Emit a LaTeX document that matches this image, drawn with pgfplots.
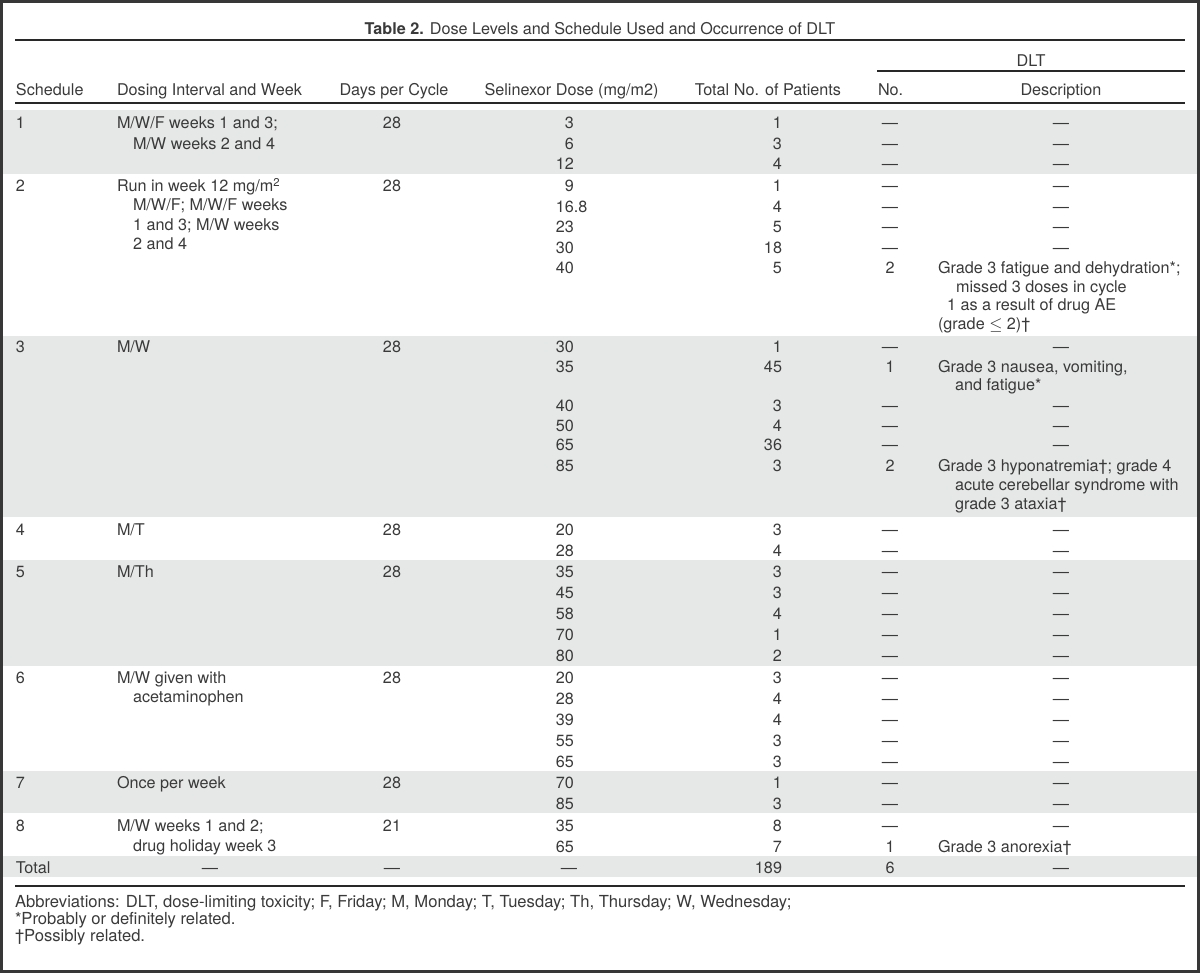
\documentclass[border=0pt]{standalone}
\usepackage{fontspec}
\setmainfont{TeX Gyre Heros}
\usepackage{pgfplots}
\pgfplotsset{compat=1.18}
\usepackage{pgfplotstable}
\definecolor{shade}{RGB}{230,231,231}
\definecolor{txt}{RGB}{58,58,58}
\definecolor{rulec}{RGB}{40,40,40}
\definecolor{framec}{RGB}{55,55,55}
\newcommand\tabfont{\fontsize{8.1}{9.7}\selectfont}
\newcommand\notefont{\fontsize{8.3}{9.9}\selectfont}
\tikzset{cell/.style={inner sep=0pt,outer sep=0pt,yshift=-3pt,font=\tabfont,text=txt},
         note/.style={inner sep=0pt,outer sep=0pt,yshift=-3pt,font=\notefont,text=txt,anchor=base west}}
\newcommand{\cellL}[3]{\node[cell,anchor=base west] at (axis cs:#1,#2) {#3};}
\newcommand{\cellC}[3]{\node[cell,anchor=base] at (axis cs:#1,#2) {#3};}

% Selinexor dose (right aligned, decimal aligned)
\pgfplotstableread{
x y t
574 123 3
574 143.5 6
574 164 12
574 186 9
587.5 206.5 16.8
574 227 23
574 247.5 30
574 268 40
574 346 30
574 366 35
574 405 40
574 425 50
574 445 65
574 465 85
574 529 20
574 550 28
574 571 35
574 592 45
574 613 58
574 634 70
574 655 80
574 677 20
574 698 28
574 719 39
574 740 55
574 761 65
574 782 70
574 803 85
574 825 35
574 846 65
577 867 —
}\dosetab

% Total no. of patients (right aligned)
\pgfplotstableread{
x y t
782 123 1
782 143.5 3
782 164 4
782 186 1
782 206.5 4
782 227 5
782 247.5 18
782 268 5
782 346 1
782 366 45
782 405 3
782 425 4
782 445 36
782 465 3
782 529 3
782 550 4
782 571 3
782 592 3
782 613 4
782 634 1
782 655 2
782 677 3
782 698 4
782 719 4
782 740 3
782 761 3
782 782 1
782 803 3
782 825 8
782 846 7
782 867 189
}\pattab

% DLT no. (centred)
\pgfplotstableread{
x y t
890 123 —
890 143.5 —
890 164 —
890 186 —
890 206.5 —
890 227 —
890 247.5 —
890 268 2
890 346 —
890 366 1
890 405 —
890 425 —
890 445 —
890 465 2
890 529 —
890 550 —
890 571 —
890 592 —
890 613 —
890 634 —
890 655 —
890 677 —
890 698 —
890 719 —
890 740 —
890 761 —
890 782 —
890 803 —
890 825 —
890 846 1
890 867 6
}\notab

% Days per cycle (centred)
\pgfplotstableread{
x y t
392 123 28
392 186 28
392 346 28
392 529 28
392 571 28
392 677 28
392 782 28
392 825 21
392 867 —
}\daystab

% Description dashes (centred)
\pgfplotstableread{
x y t
1061 123 —
1061 143.5 —
1061 164 —
1061 186 —
1061 206.5 —
1061 227 —
1061 247.5 —
1061 346 —
1061 405 —
1061 425 —
1061 445 —
1061 529 —
1061 550 —
1061 571 —
1061 592 —
1061 613 —
1061 634 —
1061 655 —
1061 677 —
1061 698 —
1061 719 —
1061 740 —
1061 761 —
1061 782 —
1061 803 —
1061 825 —
1061 867 —
}\desctab

\begin{document}
\begin{tikzpicture}
\begin{axis}[
  scale only axis, width=600pt, height=486.5pt,
  xmin=0, xmax=1200, ymin=0, ymax=973, y dir=reverse,
  hide axis, clip=false,
]
% shaded groups
\addplot[fill=shade,draw=none] coordinates {(3,110)(1197,110)(1197,174)(3,174)} -- cycle;
\addplot[fill=shade,draw=none] coordinates {(3,336)(1197,336)(1197,517)(3,517)} -- cycle;
\addplot[fill=shade,draw=none] coordinates {(3,560)(1197,560)(1197,666)(3,666)} -- cycle;
\addplot[fill=shade,draw=none] coordinates {(3,771)(1197,771)(1197,813)(3,813)} -- cycle;
\addplot[fill=shade,draw=none] coordinates {(3,856)(1197,856)(1197,877)(3,877)} -- cycle;
% rules
\addplot[draw=rulec,line width=0.85pt] coordinates {(15,40)(1185,40)};
\addplot[draw=rulec,line width=0.85pt] coordinates {(877,71)(1185,71)};
\addplot[draw=rulec,line width=0.85pt] coordinates {(15,103)(1185,103)};
\addplot[draw=rulec,line width=0.85pt] coordinates {(15,886)(1185,886)};
% frame
\addplot[draw=framec,line width=1.5pt] coordinates {(1.5,1.5)(1198.5,1.5)(1198.5,971.5)(1.5,971.5)} -- cycle;

% numeric columns
\addplot[draw=none,mark=none,nodes near coords,point meta=explicit symbolic,
  nodes near coords style={cell,anchor=base east}] table[x=x,y=y,meta=t]{\dosetab};
\addplot[draw=none,mark=none,nodes near coords,point meta=explicit symbolic,
  nodes near coords style={cell,anchor=base east}] table[x=x,y=y,meta=t]{\pattab};
\addplot[draw=none,mark=none,nodes near coords,point meta=explicit symbolic,
  nodes near coords style={cell,anchor=base}] table[x=x,y=y,meta=t]{\notab};
\addplot[draw=none,mark=none,nodes near coords,point meta=explicit symbolic,
  nodes near coords style={cell,anchor=base}] table[x=x,y=y,meta=t]{\daystab};
\addplot[draw=none,mark=none,nodes near coords,point meta=explicit symbolic,
  nodes near coords style={cell,anchor=base}] table[x=x,y=y,meta=t]{\desctab};

% title and headers
\cellC{600}{28.5}{\textbf{Table 2.} Dose Levels and Schedule Used and Occurrence of DLT}
\cellC{1031}{60.5}{DLT}
\cellL{16}{89.5}{Schedule}
\cellL{117}{89.5}{Dosing Interval and Week}
\cellC{394}{89.5}{Days per Cycle}
\cellC{571.5}{89.5}{Selinexor Dose (mg/m2)}
\cellC{768}{89.5}{Total No. of Patients}
\cellL{878}{89.5}{No.}
\cellC{1061}{89.5}{Description}

% schedule column
\cellL{16}{123}{1}
\cellL{16}{186}{2}
\cellL{16}{346}{3}
\cellL{16}{529}{4}
\cellL{16}{571}{5}
\cellL{16}{677}{6}
\cellL{16}{782}{7}
\cellL{16}{825}{8}
\cellL{16}{867}{Total}

% dosing interval column
\cellL{117}{123}{M/W/F weeks 1 and 3;}
\cellL{133}{143.5}{M/W weeks 2 and 4}
\cellL{117}{186}{Run in week 12 mg/m\textsuperscript{2}}
\cellL{133}{205}{M/W/F; M/W/F weeks}
\cellL{133}{224.5}{1 and 3; M/W weeks}
\cellL{133}{244}{2 and 4}
\cellL{117}{346}{M/W}
\cellL{117}{529}{M/T}
\cellL{117}{571}{M/Th}
\cellL{117}{677}{M/W given with}
\cellL{133}{696}{acetaminophen}
\cellL{117}{782}{Once per week}
\cellL{117}{825}{M/W weeks 1 and 2;}
\cellL{133}{845}{drug holiday week 3}
\cellC{210}{867}{—}

% descriptions
\cellL{938}{268}{Grade 3 fatigue and dehydration*;}
\cellL{956}{286.5}{missed 3 doses in cycle}
\cellL{947}{305}{1 as a result of drug AE}
\cellL{938}{323}{(grade $\leq$ 2)\textdagger}
\cellL{938}{366}{Grade 3 nausea, vomiting,}
\cellL{955}{385}{and fatigue*}
\cellL{938}{465}{Grade 3 hyponatremia\textdagger; grade 4}
\cellL{955}{484}{acute cerebellar syndrome with}
\cellL{955}{503}{grade 3 ataxia\textdagger}
\cellL{938}{846}{Grade 3 anorexia\textdagger}

% footnotes
\node[note] at (axis cs:15,901) {Abbreviations: DLT, dose-limiting toxicity; F, Friday; M, Monday; T, Tuesday; Th, Thursday; W, Wednesday;};
\node[note] at (axis cs:15,918) {*Probably or definitely related.};
\node[note] at (axis cs:15,935) {\textdagger Possibly related.};
\end{axis}
\end{tikzpicture}
\end{document}
